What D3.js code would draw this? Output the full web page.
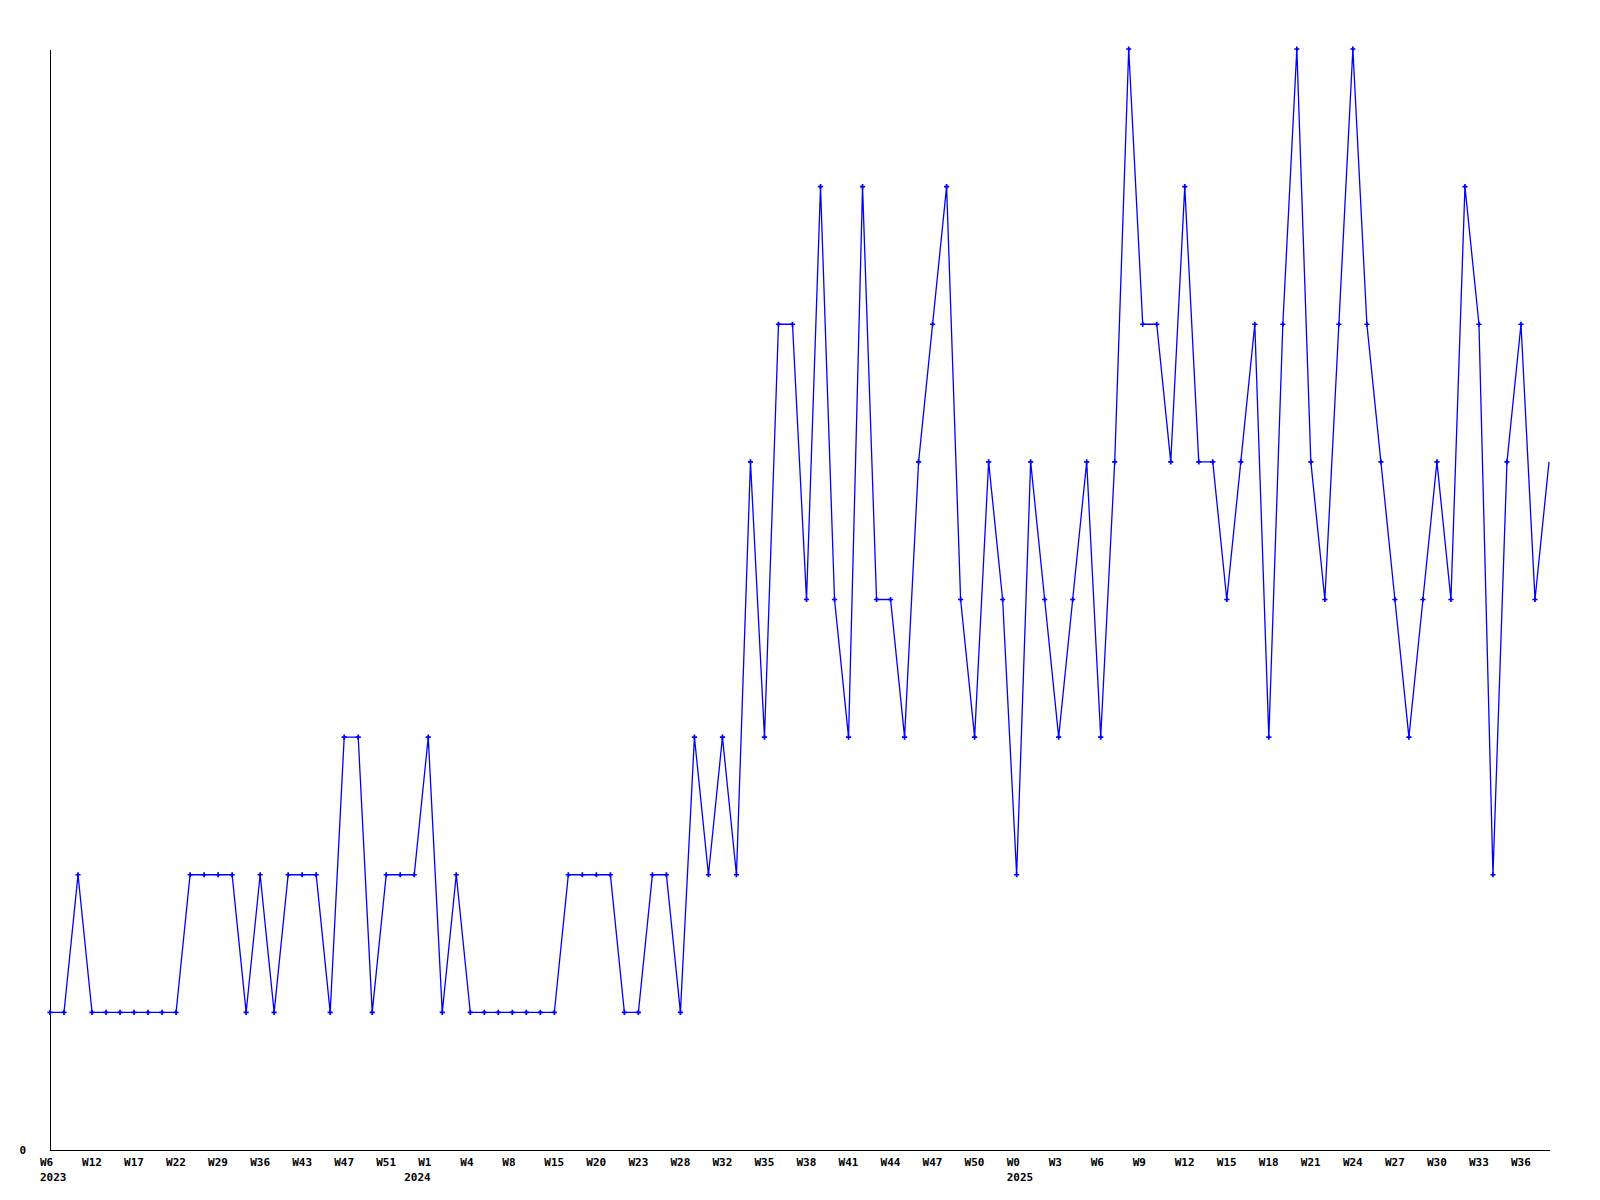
<!DOCTYPE html>
<html>
<head>
<meta charset="utf-8">
<script src="https://cdn.jsdelivr.net/npm/d3@7"></script>
<style>
  html, body { margin: 0; padding: 0; background: #fff; }
  svg { display: block; }
  text { font-family: "DejaVu Sans Mono", "Liberation Mono", monospace; font-weight: bold; font-size: 11px; fill: #000; }
</style>
</head>
<body>
<svg id="chart" width="1600" height="1200"></svg>
<script>
// Weekly values (one per week)
const values = [
  1,1,2,1,1,1,1,1,1,1,
  2,2,2,2,1,2,1,2,2,2,
  1,3,3,1,2,2,2,3,1,2,
  1,1,1,1,1,1,1,2,2,2,
  2,1,1,2,2,1,3,2,3,2,
  5,3,6,6,4,7,4,3,7,4,
  4,3,5,6,7,4,3,5,4,2,
  5,4,3,4,5,3,5,8,6,6,
  5,7,5,5,4,5,6,3,6,8,
  5,4,6,8,6,5,4,3,4,5,
  4,7,6,2,5,6,4,5
];
// Tick labels, one every 3 weeks
const tickLabels = ["W6","W12","W17","W22","W29","W36","W43","W47","W51","W1","W4","W8",
  "W15","W20","W23","W28","W32","W35","W38","W41","W44","W47","W50","W0",
  "W3","W6","W9","W12","W15","W18","W21","W24","W27","W30","W33","W36"];
const tickEvery = 3;
const yearLabels = ["2023","2024","2025"];
const yearIndex = [0, 26, 69];
const yTicks = [0];

const svg = d3.select("#chart");
const mLeft = 50, mRight = 1550, mTop = 50, mBottom = 1150;

const x = d3.scaleLinear().domain([0, 106]).range([mLeft, 1535]);
const y = d3.scaleLinear().domain([0, 8]).range([mBottom, 49]);

// axes lines
svg.append("line").attr("x1", mLeft + 0.5).attr("x2", mLeft + 0.5).attr("y1", mTop).attr("y2", mBottom + 0.5)
  .attr("stroke", "#000").attr("stroke-width", 1).attr("shape-rendering", "crispEdges");
svg.append("line").attr("x1", mLeft).attr("x2", mRight).attr("y1", mBottom + 0.5).attr("y2", mBottom + 0.5)
  .attr("stroke", "#000").attr("stroke-width", 1).attr("shape-rendering", "crispEdges");

// y tick label
svg.selectAll("text.ylab").data(yTicks).enter().append("text")
  .attr("class", "ylab")
  .attr("x", 26).attr("y", d => y(d) + 4)
  .attr("text-anchor", "end")
  .text(d => d);

// x tick labels
svg.selectAll("text.xlab").data(tickLabels).enter().append("text")
  .attr("class", "xlab")
  .attr("x", (d, i) => x(i * tickEvery) - 10)
  .attr("y", 1166)
  .attr("text-anchor", "start")
  .text(d => d);

// year labels
svg.selectAll("text.year").data(yearLabels).enter().append("text")
  .attr("class", "year")
  .attr("x", (d, i) => x(yearIndex[i]) - 10)
  .attr("y", 1181)
  .attr("text-anchor", "start")
  .text(d => d);

// line
const line = d3.line().x((d, i) => x(i)).y(d => y(d));
svg.append("path").datum(values)
  .attr("d", line)
  .attr("fill", "none")
  .attr("stroke", "#0000ff")
  .attr("stroke-width", 1.3);

// markers (last, partial week has none)
const sym = d3.symbol().type(d3.symbolCross).size(15);
svg.append("g").selectAll("path").data(values.map((v, i) => [i, v]).filter(d => d[0] < values.length - 1))
  .enter().append("path")
  .attr("d", sym)
  .attr("transform", d => `translate(${x(d[0])},${y(d[1])})`)
  .attr("fill", "#0000ff");
</script>
</body>
</html>
